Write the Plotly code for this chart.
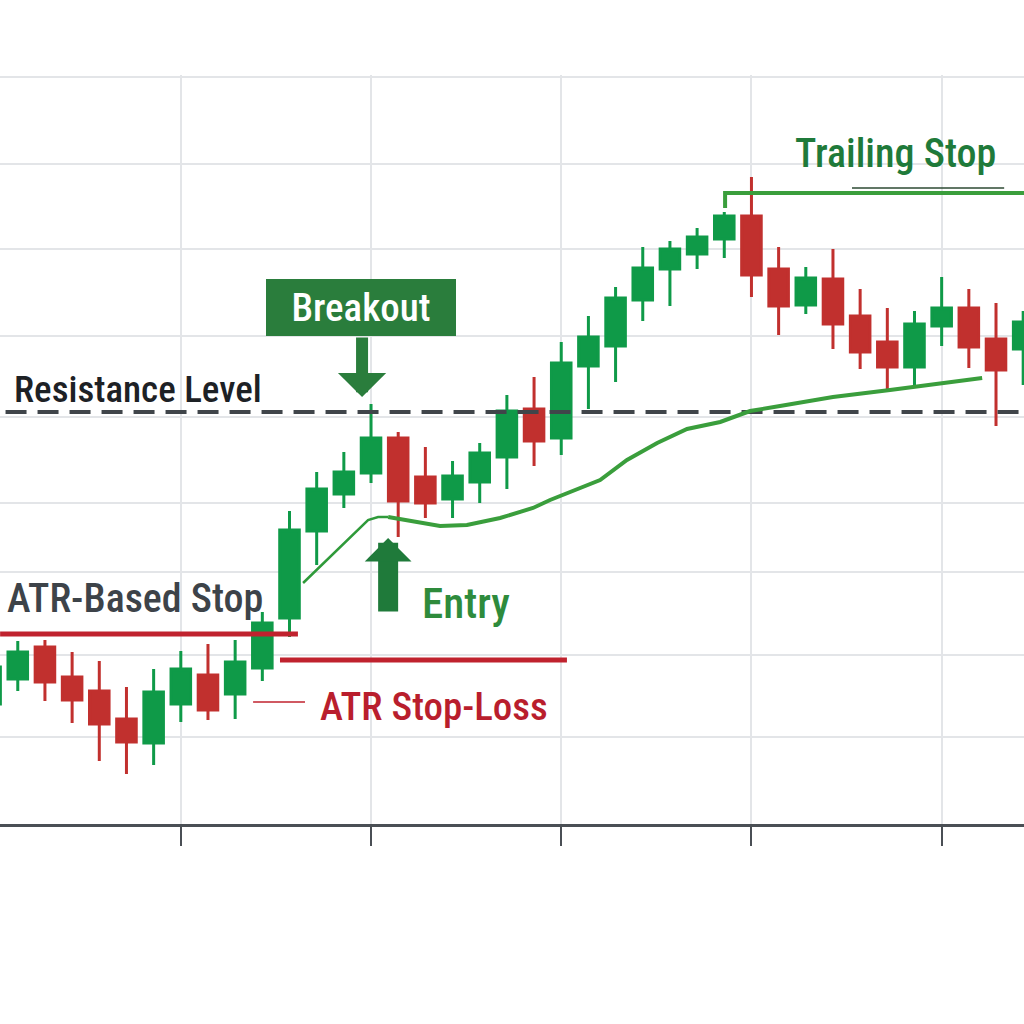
import plotly.graph_objects as go

# ---- candle data (index = bar number) ----
bar_index = list(range(39))
opens = [112.0, 114.5, 117.7, 114.7, 113.3, 110.5, 108.1, 112.0, 114.9, 113.0,
         115.6, 120.6, 129.3, 133.0, 135.1, 138.6, 134.7, 132.5, 134.2, 136.7,
         141.5, 138.6, 145.8, 147.8, 152.4, 155.5, 157.0, 158.5, 160.8, 155.5,
         151.9, 154.5, 150.8, 148.2, 145.7, 149.8, 151.6, 148.5, 147.5]
highs = [116.0, 118.3, 118.4, 117.2, 116.3, 113.7, 115.5, 117.3, 118.0, 118.4,
         121.2, 131.3, 135.2, 137.2, 142.0, 139.2, 137.7, 136.3, 138.1, 142.9,
         144.7, 148.2, 150.8, 153.7, 157.7, 158.3, 159.6, 161.2, 164.7, 157.7,
         155.7, 157.5, 153.5, 151.6, 151.3, 154.7, 153.5, 152.1, 151.3]
lows = [111.2, 113.3, 112.3, 110.1, 106.3, 105.0, 105.9, 110.2, 110.4, 110.5,
        114.3, 118.7, 125.9, 131.6, 134.1, 128.7, 130.6, 130.6, 132.1, 133.5,
        135.8, 136.9, 141.5, 144.2, 150.3, 151.8, 155.5, 156.6, 152.7, 148.9,
        151.0, 147.5, 145.5, 143.4, 143.9, 147.8, 145.6, 139.8, 143.9]
closes = [115.7, 117.2, 114.2, 112.4, 110.0, 108.2, 113.2, 115.5, 111.4, 116.2,
          120.1, 129.4, 133.5, 135.2, 138.6, 132.3, 132.1, 134.8, 137.1, 141.3,
          138.3, 146.1, 148.7, 152.6, 155.6, 157.5, 158.7, 160.8, 154.9, 151.8,
          154.6, 150.0, 147.2, 145.7, 150.0, 151.6, 147.7, 145.4, 150.2]

# ---- moving-average style line ----
ma_x = [11.50, 13.89, 14.26, 14.63, 15.69, 16.54, 17.53, 18.75, 19.96, 20.59,
        22.43, 23.42, 24.53, 25.63, 26.85, 27.95, 29.05, 31.00, 33.10, 36.49]
ma_y = [124.1, 130.4, 130.7, 130.7, 130.2, 129.8, 129.9, 130.6, 131.6, 132.4,
        134.4, 136.4, 138.1, 139.5, 140.2, 141.3, 141.8, 142.7, 143.4, 144.6]
ma_thin_count = 4

# ---- levels ----
resistance_level = 141.2
resistance_span = [0.55, 38.03]
atr_based_stop = 119.0
atr_based_span = [0.35, 11.31]
atr_stop_loss = 116.4
atr_stop_loss_span = [10.65, 21.21]
atr_legend_y = 112.2
atr_legend_span = [9.66, 11.57]
trail_x = [27.03, 27.03, 38.03]
trail_y = [161.6, 163.1, 163.1]
trail_mark_x = [31.7, 37.3]
trail_mark_y = 163.6

# ---- axis grid values ----
x_ticks = [7, 14, 21, 28, 35]
y_grid = [108.7, 116.9, 125.2, 132.1, 140.7, 148.8, 157.5, 166.0, 174.7]
x_range = [0.346, 38.03]
y_range = [100.0, 174.9]

GREEN = "#0f9a48"
RED = "#c1302e"
FONT = "Liberation Sans Narrow, Arial Narrow, Roboto Condensed, DejaVu Sans Condensed, sans-serif"

fig = go.Figure()
fig.add_trace(go.Candlestick(
    x=bar_index, open=opens, high=highs, low=lows, close=closes,
    increasing=dict(line=dict(color=GREEN, width=3), fillcolor=GREEN),
    decreasing=dict(line=dict(color=RED, width=3), fillcolor=RED),
    whiskerwidth=0, hoverinfo="skip", showlegend=False,
))

def hline(xs, y, color, width, dash=None):
    fig.add_trace(go.Scatter(x=xs, y=[y] * len(xs), mode="lines",
                             line=dict(color=color, width=width, dash=dash),
                             hoverinfo="skip", showlegend=False))

hline(resistance_span, resistance_level, "#40454a", 4, "21px,11px")
hline(atr_based_span, atr_based_stop, "#c0222e", 5)
hline(atr_stop_loss_span, atr_stop_loss, "#c0222e", 5)
hline(atr_legend_span, atr_legend_y, "#c0222e", 1.5)
hline(trail_mark_x, trail_mark_y, "#2d4a33", 1.5)

fig.add_trace(go.Scatter(x=trail_x, y=trail_y, mode="lines",
                         line=dict(color="#3a9e3c", width=4),
                         hoverinfo="skip", showlegend=False))
fig.add_trace(go.Scatter(x=ma_x[:ma_thin_count], y=ma_y[:ma_thin_count], mode="lines",
                         line=dict(color="#2f9a3a", width=2.5),
                         hoverinfo="skip", showlegend=False))
fig.add_trace(go.Scatter(x=ma_x[ma_thin_count - 1:], y=ma_y[ma_thin_count - 1:], mode="lines",
                         line=dict(color="#3a9e3c", width=4),
                         hoverinfo="skip", showlegend=False))

W = 500
annotations = [
    dict(x=0.79, y=143.5, text="Resistance Level", xanchor="left", yanchor="middle",
         showarrow=False, font=dict(family=FONT, size=37, weight=W, color="#1d2125")),
    dict(x=0.53, y=122.6, text="ATR-Based Stop", xanchor="left", yanchor="middle",
         showarrow=False, font=dict(family=FONT, size=40, weight=W, color="#3d4349")),
    dict(x=12.05, y=111.7, text="ATR Stop-Loss", xanchor="left", yanchor="middle",
         showarrow=False, font=dict(family=FONT, size=39, weight=W, color="#b91e2d")),
    dict(x=15.80, y=122.1, text="Entry", xanchor="left", yanchor="middle",
         showarrow=False, font=dict(family=FONT, size=43, weight=W, color="#2e8b3c")),
    dict(x=29.53, y=167.1, text="Trailing Stop", xanchor="left", yanchor="middle",
         showarrow=False, font=dict(family=FONT, size=40, weight=W, color="#1f7a3a")),
    dict(x=13.63, y=151.65, text="Breakout", xanchor="center", yanchor="middle",
         showarrow=False, width=190, height=57, bgcolor="#2a7d3c", borderpad=0,
         borderwidth=0, align="center", valign="middle",
         font=dict(family=FONT, size=39, weight=W, color="#ffffff")),
    # Breakout arrow (down)
    dict(x=13.67, y=142.7, ax=13.67, ay=148.8, axref="x", ayref="y", text="",
         showarrow=True, arrowhead=1, arrowsize=0.67, arrowwidth=12,
         arrowcolor="#2a7d3c", standoff=0),
    # Entry arrow (up)
    dict(x=14.63, y=128.6, ax=14.63, ay=121.1, axref="x", ayref="y", text="",
         showarrow=True, arrowhead=1, arrowsize=0.39, arrowwidth=20,
         arrowcolor="#1f7a3a", standoff=0),
]

fig.update_layout(
    width=1024, height=1024,
    margin=dict(l=0, r=0, t=75, b=200),
    paper_bgcolor="#ffffff", plot_bgcolor="#ffffff",
    showlegend=False,
    boxgap=0.28, boxgroupgap=0,
    annotations=annotations,
    xaxis=dict(range=x_range, rangeslider=dict(visible=False),
               tickmode="array", tickvals=x_ticks, showticklabels=False,
               ticks="outside", ticklen=19, tickwidth=2, tickcolor="#4a4f55",
               showgrid=True, gridcolor="#e3e5e8", gridwidth=2,
               showline=True, linecolor="#4a4f55", linewidth=3,
               zeroline=False, fixedrange=True),
    yaxis=dict(range=y_range, tickmode="array", tickvals=y_grid,
               showticklabels=False, ticks="", showgrid=True,
               gridcolor="#e3e5e8", gridwidth=2, showline=False,
               zeroline=False, fixedrange=True),
)

fig.write_html("out.html", config={"displayModeBar": False},
               post_script="document.body.style.margin='0px';")
